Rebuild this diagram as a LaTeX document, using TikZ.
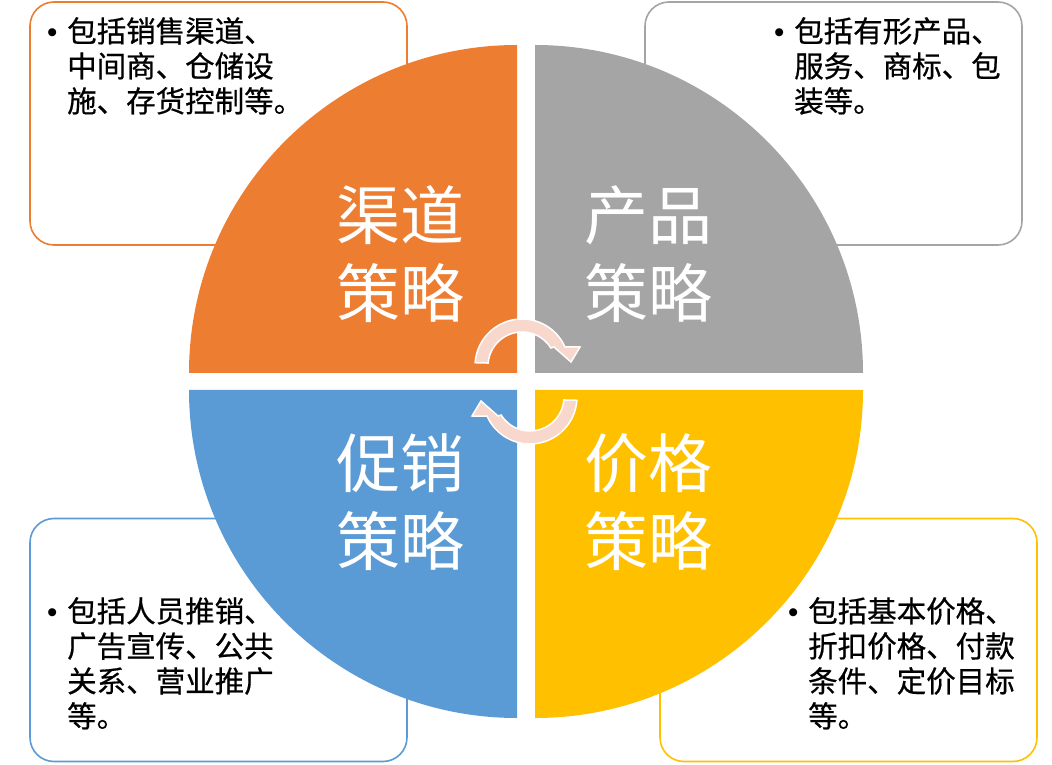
\documentclass[tikz,border=0pt]{standalone}
\usepackage{fontspec}
\setmainfont{Noto Sans CJK SC}
\newfontfamily\itemfont{Noto Sans CJK SC}[FakeBold=0.6]
\newfontfamily\bulletfont{Liberation Sans}
\usepackage{xcolor}
\definecolor{quad-orange}{HTML}{ED7D31}
\definecolor{quad-gray}{HTML}{A5A5A5}
\definecolor{quad-blue}{HTML}{5B9BD5}
\definecolor{quad-gold}{HTML}{FFC000}
\definecolor{cycle-pink}{HTML}{F8D7CC}
\newcommand{\dotitem}{\llap{\makebox[30pt]{\bulletfont •}}}
\newcommand{\cyclearrow}{%
  \filldraw[cycle-pink, draw=white, line width=1.5pt]
    ([shift={(522,398)}]176:47) arc[start angle=176, end angle=24, radius=47]
    -- ([shift={(522,398)}]58,19) -- ([shift={(522,398)}]49,4)
    -- ([shift={(522,398)}]32,19)
    -- ([shift={(522,398)}]32:34) arc[start angle=32, end angle=175, radius=34]
    -- cycle;}

\begin{document}
\begin{tikzpicture}[x=1pt, y=1pt,
        every node/.style={inner sep=0pt},
        infobox/.style={draw, line width=1.6pt, fill=white, rounded corners=24pt,
          minimum width=377pt, minimum height=243pt},
        bigtext/.style={white, align=center, font=\fontsize{64}{78}\selectfont},
        itemtext/.style={anchor=north west, align=left, font=\itemfont\fontsize{29.5}{35}\selectfont}]
      \useasboundingbox (0,0) rectangle (1052,764);
      % side boxes
      \node[infobox, draw=quad-orange] (chanbox) at (218.5,640.5) {};
      \node[infobox, draw=quad-gray] (prodbox) at (833.5,640.5) {};
      \node[infobox, draw=quad-blue] (prombox) at (218.5,124) {};
      \node[infobox, draw=quad-gold] (pricebox) at (848.5,124) {};
      % quarters
      \fill[quad-orange] (517,391) -- (189,391) arc[start angle=180, end angle=90, radius=328] -- cycle;
      \fill[quad-gray] (535,391) -- (535,719) arc[start angle=90, end angle=0, radius=328] -- cycle;
      \fill[quad-blue] (517,374) -- (189,374) arc[start angle=180, end angle=270, radius=328] -- cycle;
      \fill[quad-gold] (535,374) -- (863,374) arc[start angle=0, end angle=-90, radius=328] -- cycle;
      \node[bigtext] (chanlabel) at (400,510) {渠道\\策略};
      \node[bigtext] (prodlabel) at (648,510) {产品\\策略};
      \node[bigtext] (promlabel) at (400,262) {促销\\策略};
      \node[bigtext] (pricelabel) at (648,262) {价格\\策略};
      % cycle arrows
      \cyclearrow
      \begin{scope}[rotate around={180:(526,382.5)}]
        \cyclearrow
      \end{scope}
      % box texts
      \node[itemtext] (chantext) at (67,747) {\dotitem 包括销售渠道、\\中间商、仓储设\\施、存货控制等。};
      \node[itemtext] (prodtext) at (794,747) {\dotitem 包括有形产品、\\服务、商标、包\\装等。};
      \node[itemtext] (promtext) at (67,167) {\dotitem 包括人员推销、\\广告宣传、公共\\关系、营业推广\\等。};
      \node[itemtext] (pricetext) at (808,167) {\dotitem 包括基本价格、\\折扣价格、付款\\条件、定价目标\\等。};
    \end{tikzpicture}
\end{document}
